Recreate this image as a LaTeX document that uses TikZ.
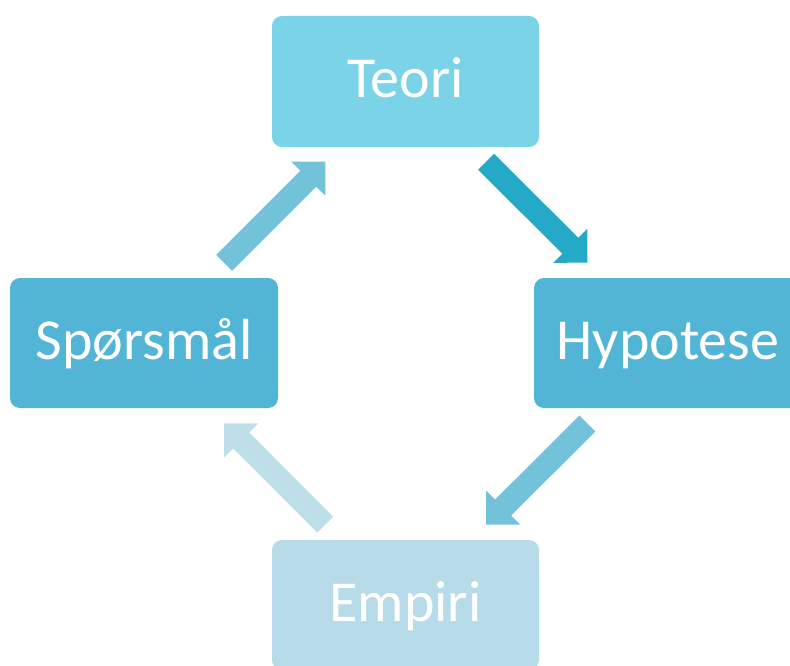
\documentclass[tikz,border=0pt]{standalone}
\usepackage{fontspec}
\setmainfont{Carlito}
\usetikzlibrary{calc}
\definecolor{cTeori}{HTML}{7BD3E7}
\definecolor{cMid}{HTML}{52B5D5}
\definecolor{cEmpiri}{HTML}{B7DBE8}
\definecolor{aDark}{HTML}{24AAC6}
\definecolor{aMid}{HTML}{72C2DA}
\definecolor{aLight}{HTML}{BEDFEA}
\newcommand\blockarrow[3]{%
  \fill[#3] let \p1=($(#2.center)-(#1.center)$), \n1={atan2(\y1,\x1)} in
    [shift={($(#1.center)!0.5!(#2.center)$)}, rotate=\n1]
    (-71.5,11.3) -- (47.5,11.3) -- (47.5,24) -- (71.5,0) -- (47.5,-24)
    -- (47.5,-11.3) -- (-71.5,-11.3) -- cycle;
}
\begin{document}
\begin{tikzpicture}[x=1pt,y=-1pt,
  box/.style={rounded corners=10pt, inner sep=0pt, minimum width=267pt,
    minimum height=131pt, text=white, text height=37pt, text depth=4pt,
    font=\fontsize{58}{70}\selectfont}]
\useasboundingbox (0,0) rectangle (790,666);
\clip (0,0) rectangle (790,666);
\node[box, fill=cTeori] (teori) at (405.5,81.5) {Teori};
\node[box, fill=cMid, minimum width=268pt, minimum height=130pt] (hyp) at (668,343) {Hypotese};
\node[box, fill=cMid, minimum width=268pt, minimum height=130pt] (spm) at (144,343) {Spørsmål};
\node[box, fill=cEmpiri, minimum height=130pt] (emp) at (405.5,605) {Empiri};
\blockarrow{teori}{hyp}{aDark}
\blockarrow{hyp}{emp}{aMid}
\blockarrow{emp}{spm}{aLight}
\blockarrow{spm}{teori}{aMid}
\end{tikzpicture}
\end{document}
